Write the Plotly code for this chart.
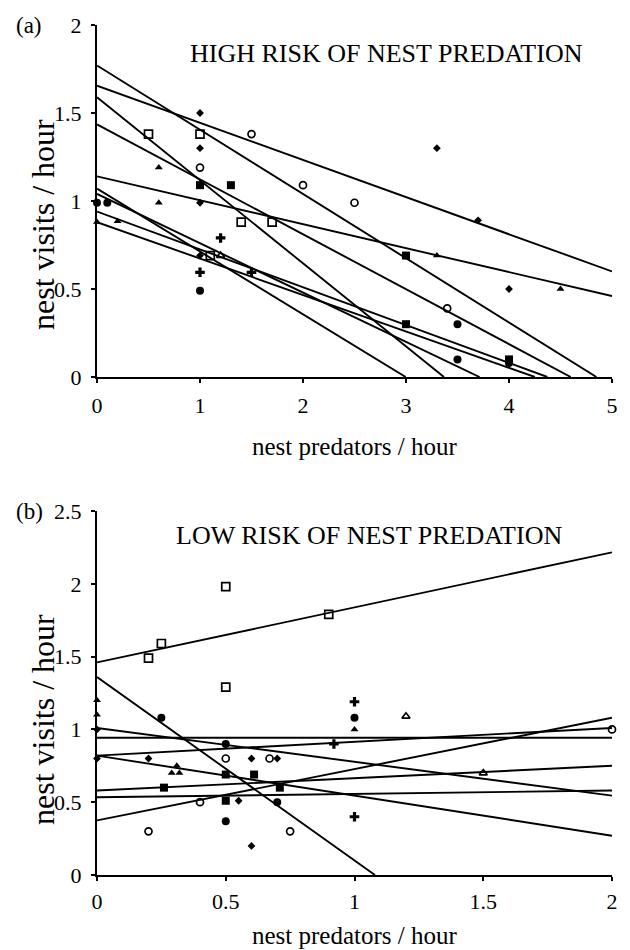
import plotly.graph_objects as go

# ---------------- Panel (a): HIGH RISK ----------------
a_open_sq_x = [0.5, 1.0, 1.1, 1.4, 1.7]
a_open_sq_y = [1.38, 1.38, 0.69, 0.88, 0.88]
a_open_circ_x = [1.0, 1.5, 2.0, 2.5, 3.4]
a_open_circ_y = [1.19, 1.38, 1.09, 0.99, 0.39]
a_sq_x = [1.0, 1.3, 3.0, 3.0, 4.0]
a_sq_y = [1.09, 1.09, 0.69, 0.30, 0.10]
a_circ_x = [0.0, 0.1, 1.0, 3.5, 3.5, 4.0]
a_circ_y = [0.99, 0.99, 0.49, 0.30, 0.10, 0.08]
a_diam_x = [1.0, 1.0, 1.0, 1.0, 3.3, 3.7, 4.0]
a_diam_y = [1.50, 1.30, 0.99, 0.69, 1.30, 0.89, 0.50]
a_tri_x = [0.6, 0.6, 0.0, 0.2, 3.3, 4.5]
a_tri_y = [1.19, 0.99, 0.88, 0.885, 0.69, 0.50]
a_open_tri_x = [1.2]
a_open_tri_y = [0.69]
a_cross_x = [1.2, 1.0, 1.5]
a_cross_y = [0.79, 0.595, 0.595]

# regression lines: value at x=0 and slope
a_line_start = [1.77, 1.655, 1.59, 1.435, 1.14, 1.07, 1.04, 0.94, 0.88]
a_line_slope = [-0.365, -0.211, -0.472, -0.312, -0.136, -0.357, -0.280, -0.215, -0.207]

# ---------------- Panel (b): LOW RISK ----------------
b_open_sq_x = [0.5, 0.9, 0.25, 0.2, 0.5]
b_open_sq_y = [1.98, 1.79, 1.59, 1.49, 1.29]
b_circ_x = [0.25, 0.5, 0.5, 0.7, 1.0]
b_circ_y = [1.08, 0.90, 0.37, 0.50, 1.08]
b_tri_x = [0.0, 0.0, 0.31, 0.29, 0.32, 1.0]
b_tri_y = [1.20, 1.10, 0.75, 0.70, 0.70, 1.00]
b_diam_x = [0.0, 0.0, 0.2, 0.6, 0.7, 0.55, 0.6]
b_diam_y = [1.00, 0.80, 0.80, 0.80, 0.80, 0.51, 0.20]
b_open_circ_x = [0.5, 0.67, 0.4, 0.2, 0.75, 2.0]
b_open_circ_y = [0.80, 0.80, 0.50, 0.30, 0.30, 1.00]
b_sq_x = [0.5, 0.61, 0.26, 0.71, 0.5]
b_sq_y = [0.69, 0.69, 0.60, 0.60, 0.51]
b_open_tri_x = [1.2, 1.5]
b_open_tri_y = [1.09, 0.70]
b_cross_x = [0.92, 1.0, 1.0]
b_cross_y = [0.90, 1.19, 0.40]

b_line_start = [1.46, 1.36, 1.01, 0.943, 0.82, 0.82, 0.58, 0.534, 0.375]
b_line_slope = [0.378, -1.26, -0.2325, 0.0, 0.095, -0.275, 0.085, 0.023, 0.3525]

XMAX_A, YMAX_A = 5, 2
XMAX_B, YMAX_B = 2, 2.5

FONT = "Liberation Serif"
W, H = 630, 950
ML, MR, MT, MB = 97, 18, 25, 75
PH = H - MT - MB
PW = W - ML - MR


def dom(top_px, bottom_px):
    return [(H - MB - bottom_px) / PH, (H - MB - top_px) / PH]


def clipped(b0, m, xmax):
    x_end = xmax
    if m < 0 and b0 / -m < xmax:
        x_end = b0 / -m
    return [0.0, x_end], [b0, b0 + m * x_end]


fig = go.Figure()


def add_pts(x, y, symbol, size, xa, ya):
    open_ = symbol.endswith("-open")
    marker = dict(symbol=symbol, size=size, color="black",
                  line=dict(color="black", width=1.7 if open_ else 0))
    fig.add_trace(go.Scatter(x=x, y=y, mode="markers", marker=marker,
                             xaxis=xa, yaxis=ya, cliponaxis=False,
                             showlegend=False, hoverinfo="skip"))


def add_lines(starts, slopes, xmax, xa, ya):
    for b0, m in zip(starts, slopes):
        xs, ys = clipped(b0, m, xmax)
        fig.add_trace(go.Scatter(x=xs, y=ys, mode="lines",
                                 line=dict(color="black", width=1.9),
                                 xaxis=xa, yaxis=ya, showlegend=False,
                                 hoverinfo="skip"))


add_lines(a_line_start, a_line_slope, XMAX_A, "x", "y")
add_pts(a_open_sq_x, a_open_sq_y, "square-open", 8, "x", "y")
add_pts(a_open_circ_x, a_open_circ_y, "circle-open", 7, "x", "y")
add_pts(a_sq_x, a_sq_y, "square", 8, "x", "y")
add_pts(a_circ_x, a_circ_y, "circle", 8, "x", "y")
add_pts(a_diam_x, a_diam_y, "diamond", 6, "x", "y")
add_pts(a_tri_x, a_tri_y, "triangle-up", 7, "x", "y")
add_pts(a_open_tri_x, a_open_tri_y, "triangle-up-open", 7, "x", "y")
add_pts(a_cross_x, a_cross_y, "cross", 8, "x", "y")

add_lines(b_line_start, b_line_slope, XMAX_B, "x2", "y2")
add_pts(b_open_sq_x, b_open_sq_y, "square-open", 8, "x2", "y2")
add_pts(b_circ_x, b_circ_y, "circle", 8, "x2", "y2")
add_pts(b_tri_x, b_tri_y, "triangle-up", 7, "x2", "y2")
add_pts(b_diam_x, b_diam_y, "diamond", 6, "x2", "y2")
add_pts(b_open_circ_x, b_open_circ_y, "circle-open", 7, "x2", "y2")
add_pts(b_sq_x, b_sq_y, "square", 8, "x2", "y2")
add_pts(b_open_tri_x, b_open_tri_y, "triangle-up-open", 7, "x2", "y2")
add_pts(b_cross_x, b_cross_y, "cross", 8, "x2", "y2")

axis_common = dict(showgrid=False, zeroline=False, showline=True,
                   linecolor="black", linewidth=2, ticks="outside",
                   ticklen=4, tickwidth=1.5, tickcolor="black",
                   tickfont=dict(family=FONT, size=22, color="black"),
                   fixedrange=True)

fig.update_layout(
    width=W, height=H,
    margin=dict(l=ML, r=MR, t=MT, b=MB),
    paper_bgcolor="white", plot_bgcolor="white",
    font=dict(family=FONT, color="black"),
    xaxis=dict(domain=[0, 1], range=[0, XMAX_A], dtick=1, anchor="y",
               ticklabelstandoff=4, **axis_common),
    yaxis=dict(domain=dom(25, 377), range=[0, YMAX_A], dtick=0.5,
               anchor="x", ticklabelstandoff=5, **axis_common),
    xaxis2=dict(domain=[0, 1], range=[0, XMAX_B], dtick=0.5, anchor="y2",
                ticklabelstandoff=2, **axis_common),
    yaxis2=dict(domain=dom(511, 875), range=[0, YMAX_B], dtick=0.5,
                anchor="x2", ticklabelstandoff=5, **axis_common),
)

ann = []
# in-plot titles
ann.append(dict(text="HIGH RISK OF NEST PREDATION", x=2.81, y=1.84,
                xref="x", yref="y", showarrow=False, xanchor="center",
                font=dict(family=FONT, size=26, color="black")))
ann.append(dict(text="LOW RISK OF NEST PREDATION", x=1.057, y=2.335,
                xref="x2", yref="y2", showarrow=False, xanchor="center",
                font=dict(family=FONT, size=26, color="black")))
# panel labels
ann.append(dict(text="(a)", x=(29 - ML) / PW, y=1, xref="x domain",
                yref="y domain", showarrow=False, xanchor="center",
                yanchor="middle",
                font=dict(family=FONT, size=23, color="black")))
ann.append(dict(text="(b)", x=(29 - ML) / PW, y=1, xref="x2 domain",
                yref="y2 domain", showarrow=False, xanchor="center",
                yanchor="middle",
                font=dict(family=FONT, size=23, color="black")))
# axis titles
for xa, ya, shift in (("x", "y", -70), ("x2", "y2", -60)):
    ann.append(dict(text="nest predators / hour", x=0.5, y=0,
                    xref=f"{xa} domain", yref=f"{ya} domain",
                    xanchor="center", yanchor="middle", yshift=shift,
                    showarrow=False,
                    font=dict(family=FONT, size=25, color="black")))
for xa, ya, yc in (("x", "y", 0.432), ("x2", "y2", 0.426)):
    ann.append(dict(text="nest visits / hour", x=(43 - ML) / PW,
                    y=yc, xref=f"{xa} domain", yref=f"{ya} domain",
                    textangle=-90, showarrow=False, xanchor="center",
                    yanchor="middle",
                    font=dict(family=FONT, size=32, color="black")))
fig.update_layout(annotations=ann)

fig.write_html("out.html")
